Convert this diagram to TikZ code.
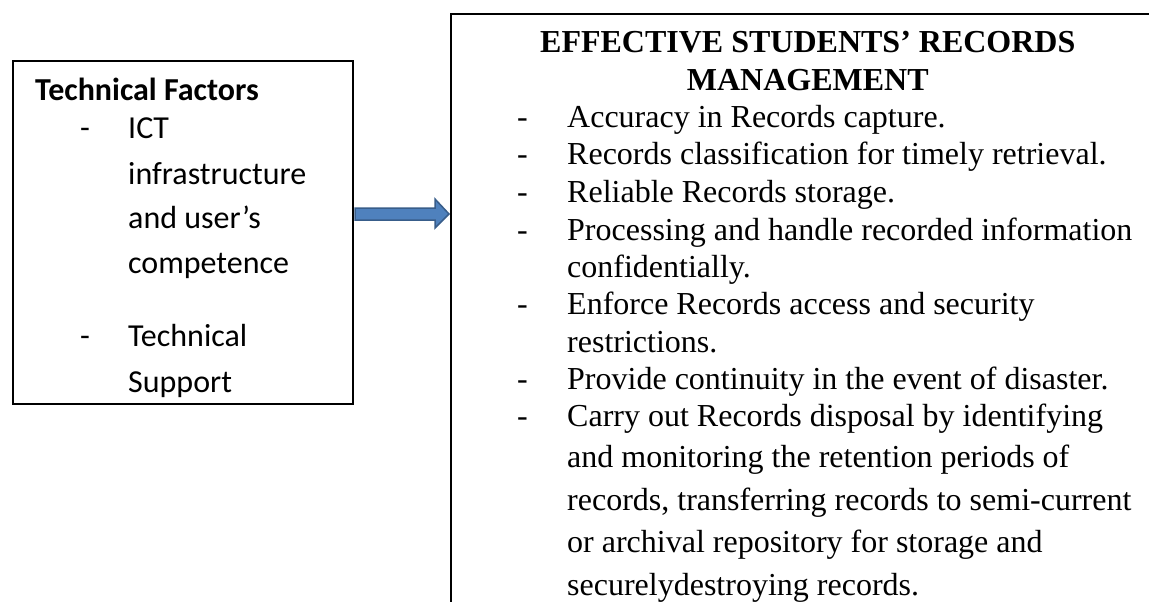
\documentclass[tikz,border=0pt]{standalone}
\usepackage{fontspec}
\setmainfont{Liberation Serif}
\newfontfamily\calib{Carlito}
\definecolor{arrowfill}{HTML}{4F81BD}
\definecolor{arrowline}{HTML}{385D8A}
\tikzset{
  lt/.style={anchor=base west, inner sep=0pt, font=\calib\fontsize{32}{38}\selectfont},
  rt/.style={anchor=base west, inner sep=0pt, font=\fontsize{32}{37}\selectfont},
  frame/.style={draw=black, line width=1.6pt},
  arrowshape/.style={fill=arrowfill, draw=arrowline, line width=1.5pt, line join=miter}
}
\begin{document}
\begin{tikzpicture}[x=1pt, y=-1pt]
\useasboundingbox[fill=white] (0,0) rectangle (1149,602);
% left box
\node[frame, anchor=north west, minimum width=340pt, minimum height=343pt, inner sep=0pt] (lbox) at (12,60) {};
\node[lt, font=\calib\bfseries\fontsize{32}{38}\selectfont] (lh) at (35,100) {Technical Factors};
\node[lt] (ld1) at (80,139) {-};
\node[lt] (l1) at (128,139) {ICT};
\node[lt] (l2) at (128,184) {infrastructure};
\node[lt] (l3) at (128,228) {and user’s};
\node[lt] (l4) at (128,273) {competence};
\node[lt] (ld2) at (80,346) {-};
\node[lt] (l5) at (128,346) {Technical};
\node[lt] (l6) at (128,392) {Support};
% arrow
\coordinate (a0) at (355,214);
\coordinate (a1) at (449,214);
\draw[arrowshape] (355,208) -- (435,208) -- (435,199) -- (a1) -- (435,228) -- (435,220) -- (355,220) -- cycle;
% right box (open frame)
\coordinate (rtl) at (451,14);
\coordinate (rtr) at (1149,14);
\coordinate (rbl) at (451,602);
\draw[frame] (rtr) -- (rtl) -- (rbl);
% title
\node[rt, font=\bfseries\fontsize{32}{37}\selectfont] (t1) at (540,53) {EFFECTIVE STUDENTS’ RECORDS};
\node[anchor=base, inner sep=0pt, font=\bfseries\fontsize{32}{37}\selectfont] (t2) at ([yshift=-37pt]t1.base) {MANAGEMENT};
% items
\foreach \y [count=\i] in {127,164,202,240,314,389,426} {
  \node[rt] (d\i) at (517,\y) {-};
}
\node[rt] (r1) at (567,127) {Accuracy in Records capture.};
\node[rt] (r2) at (567,164) {Records classification for timely retrieval.};
\node[rt] (r3) at (567,202) {Reliable Records storage.};
\node[rt] (r4) at (567,240) {Processing and handle recorded information};
\node[rt] (r5) at (567,277) {confidentially.};
\node[rt] (r6) at (567,314) {Enforce Records access and security};
\node[rt] (r7) at (567,352) {restrictions.};
\node[rt] (r8) at (567,389) {Provide continuity in the event of disaster.};
\node[rt] (r9) at (567,426) {Carry out Records disposal by identifying};
\node[rt] (r10) at (567,467) {and monitoring the retention periods of};
\node[rt] (r11) at (567,510) {records, transferring records to semi-current};
\node[rt] (r12) at (567,552) {or archival repository for storage and};
\node[rt] (r13) at (567,595) {securelydestroying records.};
\end{tikzpicture}
\end{document}
